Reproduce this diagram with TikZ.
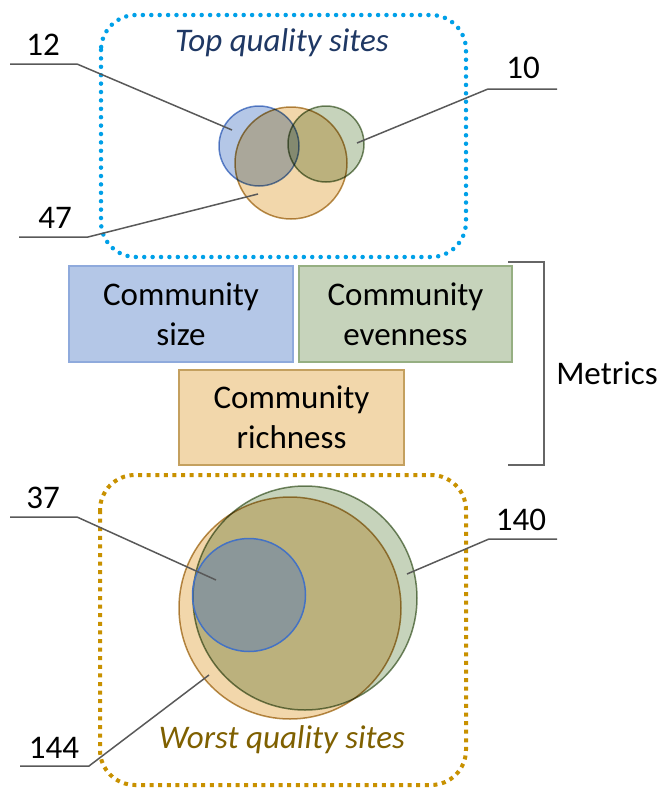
\documentclass[tikz,border=0pt]{standalone}
\usepackage{fontspec}
\setmainfont{Carlito}
\usepackage{tikz}

\definecolor{sizeblue}{RGB}{68,114,196}
\definecolor{richgold}{RGB}{222,156,45}
\definecolor{evengreen}{RGB}{112,146,84}
\definecolor{sizeline}{RGB}{143,170,220}
\definecolor{richline}{RGB}{196,160,95}
\definecolor{evenline}{RGB}{150,175,130}
\definecolor{topblue}{RGB}{0,160,232}
\definecolor{worstgold}{RGB}{200,145,0}
\definecolor{toptext}{RGB}{31,56,100}
\definecolor{worsttext}{RGB}{127,96,0}

\begin{document}
\begin{tikzpicture}[
    x = 1pt, y = -1pt,
    font = \fontsize{33}{40}\selectfont,
    %
    metric/.style = {draw, line width = 1.5pt, align = center,
      inner sep = 0pt},
    venn/.style = {circle, draw, line width = 1.5pt, inner sep = 0pt,
      blend mode = multiply, draw opacity = 0.8},
    %
    sizeset/.style = {fill = sizeblue!40, draw = sizeblue},
    richset/.style = {fill = richgold!40, draw = richgold!75!black},
    evenset/.style = {fill = evengreen!40, draw = evengreen!75!black},
    %
    leader/.style = {draw = black!65, line width = 1.5pt},
    sitebox/.style = {line width = 4.5pt, rounded corners = 35pt},
    ]

    \useasboundingbox (0, 0) rectangle (661, 788);

    % site groups
    \draw [sitebox, topblue, line cap = round,
      dash pattern = on 0pt off 8.4pt] (101, 15) rectangle (466, 257);
    \draw [sitebox, worstgold, line width = 4pt,
      dash pattern = on 4pt off 4.6pt] (100, 475) rectangle (466, 785);

    \node at (282, 43)
    [name = toptitle, toptext, font = \fontsize{33}{40}\selectfont\itshape]
    {Top quality sites};
    \node at (282, 740)
    [name = worsttitle, worsttext, font = \fontsize{33}{40}\selectfont\itshape]
    {Worst quality sites};

    % top quality circles
    \node at (259, 146)
    [venn, sizeset, minimum size = 80pt, name = sizeT] {};
    \node at (291, 163)
    [venn, richset, minimum size = 112pt, name = richT] {};
    \node at (326, 144)
    [venn, evenset, minimum size = 76pt, name = evenT] {};

    % worst quality circles
    \node at (290, 608)
    [venn, richset, minimum size = 222pt, name = richW] {};
    \node at (305, 598)
    [venn, evenset, minimum size = 224pt, name = evenW] {};
    \node at (249, 595)
    [venn, sizeset, blend mode = normal, fill = sizeblue,
      fill opacity = 0.4, draw opacity = 1,
      minimum size = 113pt, name = sizeW] {};

    % metrics
    \node at (181, 314)
    [metric, fill = sizeblue!40, draw = sizeline,
      minimum width = 224pt, minimum height = 96pt, name = size]
    {Community\\size};
    \node at (405.5, 314)
    [metric, fill = evengreen!40, draw = evenline,
      minimum width = 213pt, minimum height = 96pt, name = even]
    {Community\\evenness};
    \node at (291.5, 417.5)
    [metric, fill = richgold!40, draw = richline,
      minimum width = 225pt, minimum height = 95pt, name = rich]
    {Community\\richness};

    \coordinate (mtop) at (508, 262);
    \coordinate (mbot) at (508, 465);
    \draw [black!60, line width = 2pt] (mtop) -- ++(36, 0) |- (mbot);
    \node at (607, 373) [name = metrics] {Metrics};

    % counts
    \node at (43, 45) [name = n12] {12};
    \node at (55, 218) [name = n47] {47};
    \node at (523, 68) [name = n10] {10};
    \node at (43, 498) [name = n37] {37};
    \node at (521, 520) [name = n140] {140};
    \node at (54, 748) [name = n144] {144};

    \coordinate (s12) at (10, 64);
    \coordinate (e12) at (232, 130);
    \coordinate (s47) at (19, 237);
    \coordinate (e47) at (258, 194);
    \coordinate (s10) at (557, 89);
    \coordinate (e10) at (357, 143);
    \coordinate (s37) at (10, 517);
    \coordinate (e37) at (216, 580);
    \coordinate (s140) at (557, 539);
    \coordinate (e140) at (407, 574);
    \coordinate (s144) at (20, 766);
    \coordinate (e144) at (209, 675);

    \draw [leader] (s12) -- ++(67, 0) -- (e12);
    \draw [leader] (s47) -- ++(69, 0) -- (e47);
    \draw [leader] (s10) -- ++(-69, 0) -- (e10);
    \draw [leader] (s37) -- ++(67, 0) -- (e37);
    \draw [leader] (s140) -- ++(-68, 0) -- (e140);
    \draw [leader] (s144) -- ++(69, 0) -- (e144);

  \end{tikzpicture}
\end{document}
